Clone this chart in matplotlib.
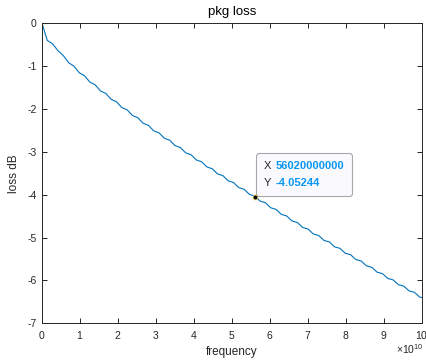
import matplotlib
matplotlib.use('Agg')
import matplotlib.pyplot as plt
from matplotlib.ticker import ScalarFormatter
from matplotlib.offsetbox import TextArea, HPacker, VPacker, AnnotationBbox

# frequency samples in units of 1e10 Hz
freq_e10 = [0.0, 0.07, 0.14, 0.28, 0.42, 0.56, 0.70, 0.84, 0.98, 1.12, 1.26,
            1.40, 1.54, 1.68, 1.82, 1.96, 2.10, 2.24, 2.38, 2.52, 2.66,
            2.80, 2.94, 3.08, 3.22, 3.36, 3.50, 3.64, 3.78, 3.92, 4.06,
            4.20, 4.34, 4.48, 4.62, 4.76, 4.90, 5.04, 5.18, 5.32, 5.46,
            5.60, 5.74, 5.88, 6.02, 6.16, 6.30, 6.44, 6.58, 6.72, 6.86,
            7.00, 7.14, 7.28, 7.42, 7.56, 7.70, 7.84, 7.98, 8.12, 8.26,
            8.40, 8.54, 8.68, 8.82, 8.96, 9.10, 9.24, 9.38, 9.52, 9.66,
            9.80, 9.94, 10.0]
# loss (dB), small ripple included
loss_db = [0.0, -0.20, -0.40, -0.48, -0.64, -0.752, -0.919, -0.999, -1.154, -1.225, -1.372,
           -1.436, -1.578, -1.637, -1.775, -1.831, -1.966, -2.019, -2.151, -2.202, -2.332,
           -2.381, -2.509, -2.556, -2.682, -2.728, -2.853, -2.898, -3.022, -3.065, -3.188,
           -3.230, -3.352, -3.394, -3.515, -3.555, -3.676, -3.715, -3.835, -3.874, -3.993,
           -4.031, -4.149, -4.187, -4.305, -4.342, -4.459, -4.496, -4.612, -4.648, -4.764,
           -4.800, -4.916, -4.951, -5.066, -5.101, -5.216, -5.251, -5.365, -5.399, -5.513,
           -5.547, -5.661, -5.694, -5.808, -5.841, -5.954, -5.987, -6.100, -6.132, -6.245,
           -6.277, -6.389, -6.400]

tip_x = 56020000000
tip_y = -4.05244

xticks = [i * 1e10 for i in range(11)]
yticks = [0, -1, -2, -3, -4, -5, -6, -7]

plt.rcParams['font.family'] = ['Liberation Sans', 'DejaVu Sans']
plt.rcParams['axes.unicode_minus'] = False
plt.rcParams['mathtext.fontset'] = 'custom'
plt.rcParams['mathtext.rm'] = 'Liberation Sans'

dark = '#262626'
fig = plt.figure(figsize=(4.27, 3.64), dpi=100)
ax = fig.add_axes([42 / 427, 40.7 / 364, 380 / 427, 300 / 364])

freq = [f * 1e10 for f in freq_e10]
ax.plot(freq, loss_db, color='#0072BD', lw=0.8)

ax.set_xlim(0, 1e11)
ax.set_ylim(-7, 0)
ax.set_xticks(xticks)
ax.set_yticks(yticks)
fmt = ScalarFormatter(useMathText=True)
fmt.set_powerlimits((10, 10))
ax.xaxis.set_major_formatter(fmt)
ax.xaxis.get_offset_text().set_visible(False)
# exponent drawn by hand so it sits where the reference has it
ax.text(1.003, -0.062, r'$\mathregular{\times10^{10}}$', transform=ax.transAxes,
        ha='right', va='top', fontsize=7.5, color=dark)

ax.tick_params(direction='in', top=True, right=True, length=3.5, width=0.7,
               labelsize=7.5, colors=dark, pad=4)
for s in ax.spines.values():
    s.set_color(dark)
    s.set_linewidth(0.7)

ax.set_title('pkg loss', fontsize=9.5, color='black', pad=6)
ax.set_xlabel('frequency', fontsize=8.5, color=dark, labelpad=4)
ax.set_ylabel('loss dB', fontsize=8.5, color=dark, labelpad=5)

# data tip
ax.plot([tip_x], [tip_y], 'o', ms=3.5, mfc='black', mec='#e6d45a', mew=0.6, zorder=7)
blue = '#0a96f5'
row1 = HPacker(children=[TextArea('X', textprops=dict(color=dark, size=8)),
                         TextArea('56020000000', textprops=dict(color=blue, size=8, weight='bold'))],
               sep=3, pad=0, align='baseline')
row2 = HPacker(children=[TextArea('Y', textprops=dict(color=dark, size=8)),
                         TextArea('-4.05244', textprops=dict(color=blue, size=8, weight='bold'))],
               sep=3, pad=0, align='baseline')
tip_box = VPacker(children=[row1, row2], sep=5, pad=0, align='left')
ab = AnnotationBbox(tip_box, (tip_x, tip_y), xybox=(6.5, 6.5), xycoords='data',
                    boxcoords='offset points', box_alignment=(0, 0), pad=0.6,
                    bboxprops=dict(boxstyle='round,pad=0.6,rounding_size=0.25',
                                   fc='#fafafe', ec='#a8a8a8', lw=0.8),
                    zorder=6)
ax.add_artist(ab)

fig.savefig('out.png', dpi=100)
